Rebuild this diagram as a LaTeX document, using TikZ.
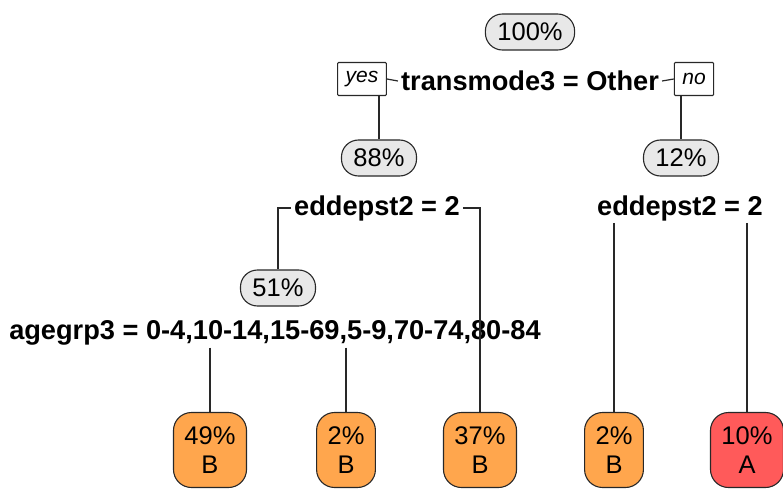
\documentclass[tikz,border=0pt]{standalone}
\usepackage{fontspec}
\setmainfont{Liberation Sans}
\definecolor{pctgray}{RGB}{232,232,232}
\definecolor{leaforange}{RGB}{255,166,77}
\definecolor{leafred}{RGB}{255,90,90}
\definecolor{linegray}{RGB}{40,40,40}
\begin{document}
\begin{tikzpicture}[x=1pt,y=-1pt,
  conn/.style={line width=1.2pt, draw=linegray},
  splitlab/.style={font=\fontsize{27.2}{31}\selectfont\bfseries, inner xsep=3pt, inner ysep=2pt},
  pct/.style={draw=linegray, line width=1.1pt, fill=pctgray, rounded corners=17pt, font=\fontsize{25.5}{28}\selectfont,
    inner xsep=12pt, inner ysep=0pt, minimum height=36pt, text height=18pt, text depth=1pt},
  leafbox/.style={draw=linegray, line width=1.1pt, rounded corners=18pt, align=center, font=\fontsize{25.5}{29}\selectfont,
    minimum height=75pt, inner xsep=11pt, inner ysep=0pt},
  yn/.style={draw=linegray, line width=1.1pt, fill=white, font=\fontsize{21}{24}\selectfont\itshape, inner xsep=8pt,
    inner ysep=0pt, minimum height=33pt, rounded corners=1pt}
]
\useasboundingbox (0,0) rectangle (783,489);

% root
\node[pct] (n100) at (530,32) {100\%};
\node[splitlab] (trans) at (530,81) {transmode3 = Other};
\node[yn] (yes) at (362,79) {yes};
\node[yn] (no) at (694,79) {no};

% second level
\node[pct] (n88) at (379,158) {88\%};
\node[pct] (n12) at (681,158) {12\%};
\node[splitlab] (edl) at (377,208) {eddepst2 = 2};
\node[splitlab] (edr) at (680,208) {eddepst2 = 2};

% third level
\node[pct] (n51) at (278,288) {51\%};
\node[splitlab] (age) at (275,333) {agegrp3 = 0-4,10-14,15-69,5-9,70-74,80-84};

% leaves
\node[leafbox, fill=leaforange] (l49) at (210,450) {49\%\\B};
\node[leafbox, fill=leaforange] (l2a) at (346,450) {2\%\\B};
\node[leafbox, fill=leaforange] (l37) at (480,450) {37\%\\B};
\node[leafbox, fill=leaforange] (l2b) at (614,450) {2\%\\B};
\node[leafbox, fill=leafred] (l10) at (747,450) {10\%\\A};

% connectors
\draw[conn] (yes.east) -- (trans.west);
\draw[conn] (trans.east) -- (no.west);
\draw[conn] (yes.south -| n88.north) -- (n88.north);
\draw[conn] (no.south -| n12.north) -- (n12.north);
\draw[conn] (edl.west) -| (n51.north);
\draw[conn] (edl.east) -| (l37.north);
\draw[conn] (edr.south -| l2b.north) -- (l2b.north);
\draw[conn] (edr.south -| l10.north) -- (l10.north);
\draw[conn] (age.south -| l49.north) -- (l49.north);
\draw[conn] (age.south -| l2a.north) -- (l2a.north);
\end{tikzpicture}
\end{document}
